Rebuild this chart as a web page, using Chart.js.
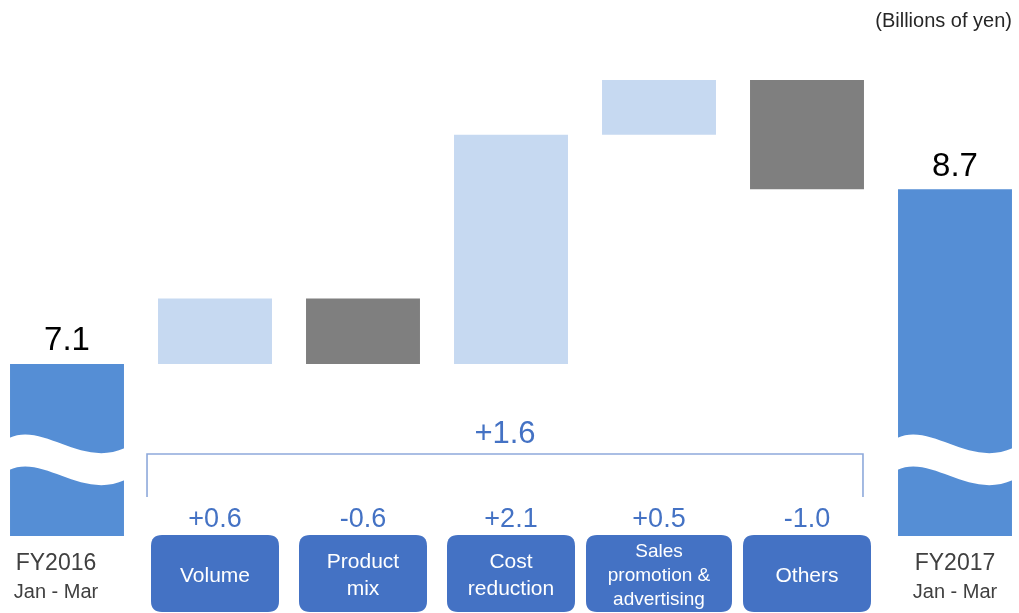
<!DOCTYPE html>
<html>
<head>
<meta charset="utf-8">
<script src="https://cdn.jsdelivr.net/npm/chart.js@4"></script>
<style>
  html, body { margin: 0; padding: 0; background: #fff; overflow: hidden; }
  #wrap { position: relative; width: 1019px; height: 613px; overflow: hidden; }
  #chart { position: absolute; left: -7px; top: 0; }
</style>
</head>
<body>
<div id="wrap"><canvas id="chart" width="1036" height="613"></canvas></div>
<script>
const categories = [
  ['FY2016', 'Jan - Mar'],
  ['Volume'],
  ['Product', 'mix'],
  ['Cost', 'reduction'],
  ['Sales', 'promotion &', 'advertising'],
  ['Others'],
  ['FY2017', 'Jan - Mar']
];
const startValue = 7.1;
const endValue = 8.7;
const changes = [0.6, -0.6, 2.1, 0.5, -1.0];
const changeLabels = ['+0.6', '-0.6', '+2.1', '+0.5', '-1.0'];
const totalLabel = '+1.6';
const unitLabel = '(Billions of yen)';

const yMin = 5.525;
const yMax = 9.975;

const FONT = '"Liberation Sans", Arial, sans-serif';
const totalBlue = '#558ED5';
const upBlue = '#C6D9F1';
const downGray = '#7F7F7F';
const textBlue = '#4472C4';

// build floating bars from the running total
const barData = [[yMin, startValue]];
const barColors = [totalBlue];
let running = startValue;
changes.forEach(c => {
  const next = Math.round((running + c) * 10) / 10;
  barData.push([Math.min(running, next), Math.max(running, next)]);
  barColors.push(c >= 0 ? upBlue : downGray);
  running = next;
});
barData.push([yMin, endValue]);
barColors.push(totalBlue);

function text(ctx, str, x, y, size, color, align) {
  ctx.font = size + 'px ' + FONT;
  ctx.fillStyle = color;
  ctx.textAlign = align || 'center';
  ctx.textBaseline = 'alphabetic';
  ctx.fillText(str, x, y);
}

function roundRect(ctx, x, y, w, h, r) {
  ctx.beginPath();
  ctx.moveTo(x + r, y);
  ctx.lineTo(x + w - r, y);
  ctx.quadraticCurveTo(x + w, y, x + w, y + r);
  ctx.lineTo(x + w, y + h - r);
  ctx.quadraticCurveTo(x + w, y + h, x + w - r, y + h);
  ctx.lineTo(x + r, y + h);
  ctx.quadraticCurveTo(x, y + h, x, y + h - r);
  ctx.lineTo(x, y + r);
  ctx.quadraticCurveTo(x, y, x + r, y);
  ctx.closePath();
}

function drawWave(ctx, bar) {
  const L = bar.x - bar.width / 2 - 1;
  const R = bar.x + bar.width / 2 + 1;
  const w = R - L;
  const y0 = 438;
  const gap = 32;
  ctx.save();
  ctx.fillStyle = '#fff';
  ctx.beginPath();
  ctx.moveTo(L, y0);
  ctx.bezierCurveTo(L + 0.3 * w, y0 - 16, L + 0.62 * w, y0 + 30, R, y0 + 10);
  ctx.lineTo(R, y0 + 10 + gap);
  ctx.bezierCurveTo(L + 0.62 * w, y0 + 30 + gap, L + 0.3 * w, y0 - 16 + gap, L, y0 + gap);
  ctx.closePath();
  ctx.fill();
  ctx.restore();
}

const annotations = {
  id: 'annotations',
  afterDatasetsDraw(chart) {
    const ctx = chart.ctx;
    const meta = chart.getDatasetMeta(0);
    const xs = chart.scales.x;
    const ys = chart.scales.y;
    const first = meta.data[0];
    const last = meta.data[meta.data.length - 1];

    drawWave(ctx, first);
    drawWave(ctx, last);

    // totals above the end bars
    text(ctx, startValue.toFixed(1), first.x, ys.getPixelForValue(startValue) - 14, 33, '#000');
    text(ctx, endValue.toFixed(1), last.x, ys.getPixelForValue(endValue) - 13, 33, '#000');

    // bracket over the changes
    const bl = meta.data[1].x - meta.data[1].width / 2 - 11;
    const br = meta.data[changes.length].x + meta.data[changes.length].width / 2 - 1;
    ctx.save();
    ctx.strokeStyle = '#8EA9DB';
    ctx.lineWidth = 1.6;
    ctx.beginPath();
    ctx.moveTo(bl, 497);
    ctx.lineTo(bl, 454);
    ctx.lineTo(br, 454);
    ctx.lineTo(br, 497);
    ctx.stroke();
    ctx.restore();
    text(ctx, totalLabel, (bl + br) / 2, 443, 31, textBlue);

    // change labels and category boxes
    changes.forEach((c, i) => {
      const cx = xs.getPixelForValue(i + 1);
      text(ctx, changeLabels[i], cx, 527, 27, textBlue);
      const lines = categories[i + 1];
      const bw = lines.length > 2 ? 146 : 128;
      ctx.fillStyle = textBlue;
      roundRect(ctx, cx - bw / 2, 535, bw, 77, 11);
      ctx.fill();
      const size = lines.length > 2 ? 19 : 21;
      const lh = lines.length > 2 ? 24 : 27;
      const top = 574 - (lines.length - 1) * lh / 2 + size * 0.36;
      lines.forEach((ln, k) => text(ctx, ln, cx, top + k * lh, size, '#fff'));
    });

    // end labels
    [[0, first.x - 11], [categories.length - 1, last.x]].forEach(([idx, cx]) => {
      const lines = categories[idx];
      text(ctx, lines[0], cx, 570, 23, '#404040');
      text(ctx, lines[1], cx, 598, 20, '#404040');
    });

    text(ctx, unitLabel, chart.width - 17, 27, 20, '#262626', 'right');
  }
};

new Chart(document.getElementById('chart'), {
  type: 'bar',
  data: {
    labels: categories,
    datasets: [{
      data: barData,
      backgroundColor: barColors,
      borderWidth: 0,
      barPercentage: 1,
      categoryPercentage: 0.77
    }]
  },
  options: {
    responsive: false,
    animation: false,
    layout: { padding: { top: 50, bottom: 77, left: 0, right: 0 } },
    plugins: {
      legend: { display: false },
      tooltip: { enabled: false }
    },
    scales: {
      x: { display: false },
      y: { display: false, min: yMin, max: yMax }
    }
  },
  plugins: [annotations]
});
</script>
</body>
</html>
